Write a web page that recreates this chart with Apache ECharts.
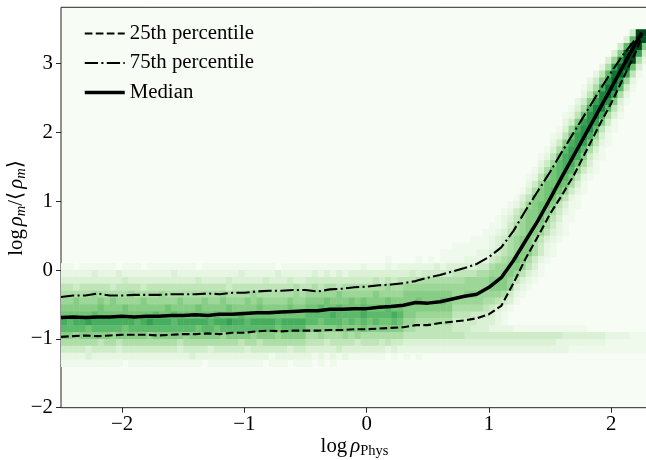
<!DOCTYPE html>
<html>
<head>
<meta charset="utf-8">
<script src="https://cdn.jsdelivr.net/npm/echarts@6/dist/echarts.min.js"></script>
<style>
html,body{margin:0;padding:0;background:#fff}
#chart{width:646px;height:460px}
</style>
</head>
<body>
<div id="chart"></div>
<script>
// Percentile curves of log rho_m/<rho_m> as a function of log rho_Phys
const xSamples = [-2.5,-2.4,-2.3,-2.2,-2.1,-2.0,-1.9,-1.8,-1.7,-1.6,
  -1.5,-1.4,-1.3,-1.2,-1.1,-1.0,-0.9,-0.8,-0.7,-0.6,
  -0.5,-0.4,-0.3,-0.2,-0.1,0.0,0.1,0.2,0.3,0.4,
  0.5,0.6,0.7,0.8,0.9,1.0,1.1,1.2,1.3,1.4,
  1.5,1.6,1.7,1.8,1.9,2.0,2.1,2.2,2.25];
const p25 = [-0.97,-0.96,-0.95,-0.96,-0.95,-0.94,-0.94,-0.94,-0.95,-0.94,
  -0.93,-0.93,-0.92,-0.93,-0.91,-0.91,-0.89,-0.88,-0.89,-0.88,
  -0.88,-0.88,-0.87,-0.87,-0.86,-0.86,-0.85,-0.84,-0.83,-0.80,
  -0.80,-0.77,-0.75,-0.73,-0.70,-0.64,-0.52,-0.19,0.17,0.49,
  0.82,1.10,1.40,1.75,2.10,2.43,2.80,3.17,3.40];
const p50 = [-0.69,-0.68,-0.69,-0.68,-0.68,-0.67,-0.68,-0.67,-0.67,-0.66,
  -0.66,-0.65,-0.66,-0.64,-0.64,-0.63,-0.62,-0.62,-0.61,-0.60,
  -0.59,-0.59,-0.57,-0.57,-0.56,-0.56,-0.54,-0.53,-0.51,-0.47,
  -0.48,-0.46,-0.42,-0.38,-0.35,-0.25,-0.11,0.14,0.43,0.72,
  1.04,1.37,1.69,2.01,2.33,2.65,2.98,3.30,3.45];
const p75 = [-0.39,-0.37,-0.37,-0.34,-0.37,-0.37,-0.36,-0.36,-0.36,-0.35,
  -0.35,-0.35,-0.34,-0.35,-0.33,-0.33,-0.31,-0.30,-0.30,-0.29,
  -0.29,-0.31,-0.28,-0.27,-0.25,-0.24,-0.22,-0.21,-0.19,-0.16,
  -0.11,-0.07,-0.02,0.03,0.09,0.19,0.33,0.57,0.87,1.15,
  1.43,1.73,2.02,2.31,2.60,2.88,3.14,3.36,3.45];

// 2-D histogram: columns of 0.05 in x starting at -2.5, rows of 0.1 in y.
// Each row: lower y edge, first column index, and one base-36 level per cell
// (0 = empty, k = 20 = densest).
const binX0 = -2.5, binDX = 0.05, binDY = 0.1;
const rowY = [3.4,3.3,3.2,3.1,3.0,2.9,2.8,2.7,2.6,2.5,2.4,2.3,2.2,2.1,2.0,1.9,1.8,1.7,1.6,1.5,
  1.4,1.3,1.2,1.1,1.0,0.9,0.8,0.7,0.6,0.5,0.4,0.3,0.2,
  0.1,0.0,-0.1,-0.2,-0.3,-0.4,-0.5,-0.6,-0.7,-0.8,-0.9,-1.0,-1.1,-1.2,-1.3,-1.4];
const rowStart = [93,92,91,90,89,88,87,86,85,85,84,83,82,82,81,80,80,79,78,78,
  77,76,76,75,74,73,72,71,70,69,67,64,60,
  0,0,0,0,0,0,0,0,0,0,0,0,0,0,0,0];
const rowLevels = [
  "4kk",
  "3ajh",
  "4aij8",
  "38hkc4",
  "37dji62",
  "26cgh93",
  "25afgc51",
  "248dgd72",
  "136bffa41",
  "259efc62",
  "248ced831",
  "136beea52",
  "1259deb631",
  "248cdc841",
  "137bdda521",
  "1259cdb731",
  "248bcc9521",
  "136acca631",
  "1259bcb8421",
  "247abb9631",
  "1369aba7421",
  "12589aa8521",
  "24799a9631",
  "13689a97421",
  "13588997521",
  "124789985311",
  "124688986421",
  "1235788975311",
  "1124678886421",
  "11235678875321",
  "111234678875321",
  "11111123567886421",
  "0011 11112234 56788642 1",
  "00000000 00000000 00000000 00000000 00000000 00000000 00000100 00101011 11222245 67986421 00000000 00000000",
  "11011111 10111011 11111101 11111111 11101111 11111111 12111212 22222323 33334467 78875310 00000000 00000000",
  "22222322 23222222 22322222 22222322 22232222 23232323 33333333 34344444 55556677 88753210 00000000 00000000",
  "33333333 33433333 33333343 33343333 34333433 44444444 44454545 55666666 66777788 87532100 00000000 00000000",
  "55455555 45555455 55555555 55545555 55555565 56566566 66666766 77777777 77777788 87321000 00000000 00000000",
  "66666766 66676666 76666666 66766667 66666676 77777877 77787777 88888888 77887777 64210000 00000000 00000000",
  "77877787 87777877 77787778 77877787 87777877 88898889 89888988 88988898 77777665 43100000 00000000 00000000",
  "88888898 88988888 89888898 88898888 98888988 99a99a99 9a999a99 88888888 66666543 21000000 00000000 00000000",
  "99999a99 9999999a 99a99999 9a999a99 99999999 aaaabaaa abaaaaba 88777777 55544432 10000000 00000000 00000000",
  "babbcbbb bbbbabcb bbabbbbb abbcbbab bbbabbbb aa9aaa9a 9a9a99a9 77666666 44443332 10000000 00000000 00000000",
  "aaaa9aaa aa9aaaaa aaaaaa9a a9aaaaaa aaa9aaaa 88888988 89888888 66555555 44433322 22111111 11111100 00000000",
  "88788888 78888878 88887888 88788887 88878888 66766676 76666666 55555555 55444444 44444444 44333333 32222111",
  "66666656 65666666 66656666 66666566 56666666 55545555 45554544 33333333 33333333 33333333 32222222 21111111",
  "44443444 43444444 44434444 34444434 44444344 33333433 33333232 22222222 22222222 22222222 22211111 11111111",
  "22223222 22222222 22222322 22222222 22122222 21212121 11111010 10100000",
  "11111111 11011111 11111110 11111111 10111011 10101000"
];
const levelMax = 18; // level that maps to the darkest shade

const tickX = [-2, -1, 0, 1, 2];
const tickY = [-2, -1, 0, 1, 2, 3];

// Greens colour ramp
const greens = ['#f7fcf5','#e5f5e0','#c7e9c0','#a1d99b','#74c476','#41ab5d','#238b45','#006d2c','#00441b'];
const rampRgb = greens.map(h => [parseInt(h.slice(1,3),16), parseInt(h.slice(3,5),16), parseInt(h.slice(5,7),16)]);
function greenAt(t) {
  t = Math.max(0, Math.min(1, t));
  const s = t * (rampRgb.length - 1);
  const i = Math.min(Math.floor(s), rampRgb.length - 2);
  const f = s - i;
  const c = rampRgb[i].map((v, k) => Math.round(v + (rampRgb[i + 1][k] - v) * f));
  return 'rgb(' + c.join(',') + ')';
}

const heatCells = [];
rowLevels.forEach((str, r) => {
  const cells = str.replace(/ /g, '');
  for (let j = 0; j < cells.length; j++) {
    const lv = parseInt(cells[j], 36);
    if (lv > 0) heatCells.push([binX0 + (rowStart[r] + j) * binDX, rowY[r], lv]);
  }
});

const serif = "'Liberation Serif', 'DejaVu Serif', serif";
const fmtMinus = v => (v < 0 ? '\u2212' + Math.abs(v) : String(v));
const pairs = arr => xSamples.map((x, i) => [x, arr[i]]);

const chart = echarts.init(document.getElementById('chart'), null, {renderer: 'canvas'});
chart.setOption({
  animation: false,
  backgroundColor: '#ffffff',
  grid: {
    left: 61, top: 7.3, right: -2, bottom: 52.3,
    containLabel: false, outerBoundsMode: 'none',
    show: true, backgroundColor: '#f7fcf5', borderColor: '#262626', borderWidth: 1
  },
  legend: {
    orient: 'vertical', left: 78, top: 18, itemWidth: 40, itemHeight: 14, itemGap: 8.5,
    itemStyle: {color: 'transparent', borderWidth: 0, opacity: 0},
    lineStyle: {width: 'inherit', type: 'inherit'},
    textStyle: {fontFamily: serif, fontSize: 20.8, color: '#000', lineHeight: 19},
    data: ['25th percentile', '75th percentile', 'Median']
  },
  xAxis: {
    type: 'value', min: -2.5, max: 2.3,
    axisLine: {show: false, onZero: false}, splitLine: {show: false},
    axisTick: {show: true, length: 5, customValues: tickX, lineStyle: {color: '#262626', width: 1}},
    axisLabel: {customValues: tickX, formatter: fmtMinus, fontFamily: serif, fontSize: 20.8, color: '#000', margin: 6},
    name: '{n|log}{i|ρ}{s|Phys}', nameLocation: 'middle', nameGap: 27, nameMoveOverlap: false,
    nameTextStyle: {
      rich: {
        n: {fontFamily: serif, fontSize: 20.8, color: '#000', padding: [0, 3, 0, 0]},
        i: {fontFamily: serif, fontSize: 20.8, fontStyle: 'italic', color: '#000'},
        s: {fontFamily: serif, fontSize: 14.5, color: '#000', padding: [9, 0, 0, 0]}
      }
    }
  },
  yAxis: {
    type: 'value', min: -2, max: 3.82,
    axisLine: {show: false, onZero: false}, splitLine: {show: false},
    axisTick: {show: true, length: 5, customValues: tickY, lineStyle: {color: '#262626', width: 1}},
    axisLabel: {customValues: tickY, formatter: fmtMinus, fontFamily: serif, fontSize: 20.8, color: '#000', margin: 8},
    name: '{n|log}{i|ρ}{s|m}{n|/⟨}{i|ρ}{s|m}{n|⟩}', nameLocation: 'middle', nameGap: 32, nameRotate: 90,
    nameMoveOverlap: false,
    nameTextStyle: {
      rich: {
        n: {fontFamily: serif, fontSize: 20.8, color: '#000', padding: [0, 1, 0, 0]},
        i: {fontFamily: serif, fontSize: 20.8, fontStyle: 'italic', color: '#000', padding: [0, 0, 0, 2]},
        s: {fontFamily: serif, fontSize: 14.5, fontStyle: 'italic', color: '#000', padding: [9, 0, 0, 0]}
      }
    }
  },
  series: [
    {
      type: 'custom', coordinateSystem: 'cartesian2d', silent: true, clip: true, z: 1,
      encode: {x: 0, y: 1},
      data: heatCells,
      renderItem: function (params, api) {
        const x0 = api.value(0), y0 = api.value(1), lv = api.value(2);
        const a = api.coord([x0, y0 + binDY]);
        const b = api.coord([x0 + binDX, y0]);
        return {
          type: 'rect',
          shape: {x: a[0], y: a[1], width: b[0] - a[0] + 0.5, height: b[1] - a[1] + 0.5},
          style: {fill: greenAt(lv / levelMax)}
        };
      }
    },
    {
      type: 'line', name: '25th percentile', data: pairs(p25), symbol: 'none', z: 3,
      lineStyle: {color: '#000', width: 2.1, type: [7.7, 3.3]}, itemStyle: {color: '#000'}
    },
    {
      type: 'line', name: '75th percentile', data: pairs(p75), symbol: 'none', z: 3,
      lineStyle: {color: '#000', width: 2.1, type: [13.3, 3.3, 2.1, 3.3]}, itemStyle: {color: '#000'}
    },
    {
      type: 'line', name: 'Median', data: pairs(p50), symbol: 'none', z: 4,
      lineStyle: {color: '#000', width: 3.5}, itemStyle: {color: '#000'}
    }
  ]
});
</script>
</body>
</html>
